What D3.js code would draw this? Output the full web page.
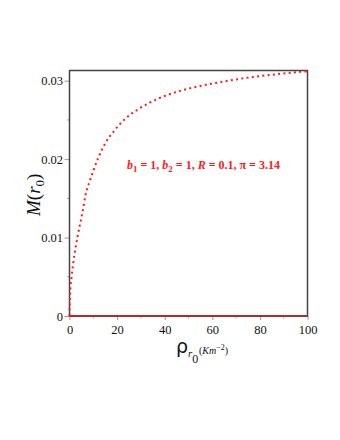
<!DOCTYPE html>
<html><head><meta charset="utf-8">
<script src="https://cdn.jsdelivr.net/npm/d3@7"></script>
<style>body{margin:0;background:#fff}svg{display:block}</style>
</head><body>
<svg id="c" width="340" height="440"></svg>
<script>
const rho = [0, 0.3, 0.9, 1.6, 2.6, 3.5, 4.5, 5.5, 6.8, 8.5, 10, 12, 15, 19, 24, 29.6, 35, 46.4, 59.5, 73, 86.3, 100];
const M   = [0, 0.0030, 0.0050, 0.0068, 0.0088, 0.0103, 0.0118, 0.0133, 0.0155, 0.0172, 0.0185, 0.0201, 0.0220, 0.0237, 0.0253, 0.0265, 0.0274, 0.0287, 0.0296, 0.0303, 0.0308, 0.0312];
const zeroRho = [0, 100];
const zeroM = [0, 0];
const xTicks = [0, 20, 40, 60, 80, 100];
const xMinor = [10, 30, 50, 70, 90];
const yTicks = [0, 0.01, 0.02, 0.03];
const yTickLabels = ["0", "0.01", "0.02", "0.03"];
const yMinor = [0.005, 0.015, 0.025];

const svg = d3.select("#c");
const L = 69.5, R = 307.5, T = 70.5, B = 316;
const x = d3.scaleLinear().domain([0, 100]).range([L, R]);
const y = d3.scaleLinear().domain([0, 0.0313]).range([B, T]);
const serif = "'Liberation Serif','Times New Roman',serif";

// ticks
const yAxis = d3.axisLeft(y).tickValues(yTicks).tickSize(5).tickFormat((d,i)=>yTickLabels[i]);
const gy = svg.append("g").attr("transform", `translate(${L},0)`).call(yAxis);
gy.select(".domain").remove();
gy.selectAll("line").attr("stroke", "#999");
gy.selectAll("text").attr("font-family", serif).attr("font-size", 12.5).attr("fill", "#111").attr("x", -6.5);
svg.append("g").selectAll("line").data(yMinor).join("line")
  .attr("x1", L - 2.5).attr("x2", L).attr("y1", d => y(d)).attr("y2", d => y(d)).attr("stroke", "#aaa");

const xAxis = d3.axisBottom(x).tickValues(xTicks).tickSize(4).tickFormat(d3.format("d"));
const gx = svg.append("g").attr("transform", `translate(0,${B})`).call(xAxis);
gx.select(".domain").remove();
gx.selectAll("line").attr("stroke", "#999");
gx.selectAll("text").attr("font-family", serif).attr("font-size", 12.5).attr("fill", "#111").attr("y", 9);
svg.append("g").selectAll("line").data(xMinor).join("line")
  .attr("x1", d => x(d)).attr("x2", d => x(d)).attr("y1", B).attr("y2", B + 2.5).attr("stroke", "#aaa");

// frame
svg.append("rect").attr("x", L).attr("y", T).attr("width", R - L).attr("height", B - T)
  .attr("fill", "none").attr("stroke", "#444").attr("stroke-width", 1.5);

// zero line
const line = d3.line().x(d => x(d[0])).y(d => y(d[1]));
svg.append("path").attr("d", line(zeroRho.map((r,i)=>[r, zeroM[i]])))
  .attr("stroke", "#a8302c").attr("stroke-width", 2).attr("fill", "none");

// dotted curve
const curve = d3.line().x(d => x(d[0])).y(d => y(d[1])).curve(d3.curveMonotoneX);
svg.append("path").attr("d", curve(rho.map((r,i)=>[r, M[i]])))
  .attr("stroke", "#ff1a1a").attr("stroke-width", 2).attr("fill", "none")
  .attr("stroke-dasharray", "2 3.3");

// annotation
const ann = svg.append("text").attr("x", 127).attr("y", 169).attr("font-family", serif)
  .attr("font-size", 12).attr("font-weight", "bold").attr("fill", "#ff1a1a");
ann.append("tspan").attr("font-style", "italic").text("b");
ann.append("tspan").attr("dy", 3).attr("font-size", 9).text("1");
ann.append("tspan").attr("dy", -3).text(" = 1, ");
ann.append("tspan").attr("font-style", "italic").text("b");
ann.append("tspan").attr("dy", 3).attr("font-size", 9).text("2");
ann.append("tspan").attr("dy", -3).text(" = 1, ");
ann.append("tspan").attr("font-style", "italic").text("R");
ann.append("tspan").text(" = 0.1, π = 3.14");

// y label
const yl = svg.append("text").attr("transform", "translate(40,216) rotate(-90)")
  .attr("font-family", serif).attr("font-size", 19).attr("fill", "#111");
yl.append("tspan").attr("font-style", "italic").text("M");
yl.append("tspan").text("(");
yl.append("tspan").attr("font-style", "italic").text("r");
yl.append("tspan").attr("dy", 4).attr("font-size", 13).text("0");
yl.append("tspan").attr("dy", -4).text(")");

// x label
const xl = svg.append("text").attr("x", 176).attr("y", 353)
  .attr("font-family", "'DejaVu Sans',sans-serif").attr("font-size", 19).attr("fill", "#111");
xl.append("tspan").text("ρ");
xl.append("tspan").attr("dy", 4).attr("font-family", serif).attr("font-style", "italic").attr("font-size", 11).text("r");
xl.append("tspan").attr("dy", 6).attr("font-family", serif).attr("font-size", 12).text("0");
const xu = svg.append("text").attr("x", 199).attr("y", 354).attr("font-family", serif).attr("font-size", 10).attr("fill", "#111");
xu.append("tspan").text("(");
xu.append("tspan").attr("font-style", "italic").text("Km");
xu.append("tspan").attr("dy", -4).attr("font-size", 8).text("−2");
xu.append("tspan").attr("dy", 4).text(")");
</script>
</body></html>
